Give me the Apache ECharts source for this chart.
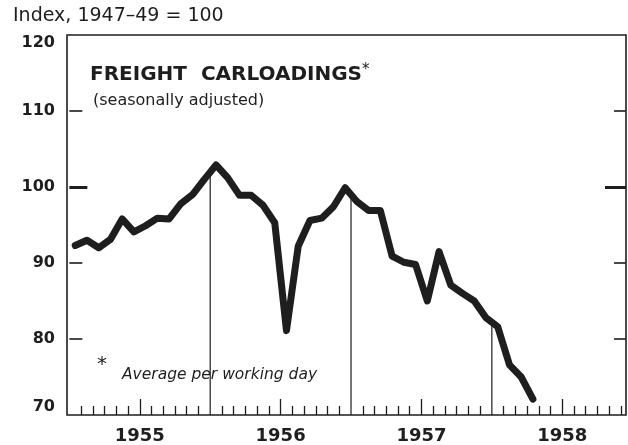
<!DOCTYPE html>
<html>
<head>
<meta charset="utf-8">
<script src="https://cdn.jsdelivr.net/npm/echarts@6/dist/echarts.min.js"></script>
<style>
  html, body { margin: 0; padding: 0; background: #fff; }
  #chart { width: 628px; height: 445px; }
</style>
</head>
<body>
<div id="chart"></div>
<script>
// Months counted from January 1955 (0 = Jan 1955)
var startYear = 1955;
var yearLabels = ['1955', '1956', '1957', '1958'];
// Monthly index values, Jan 1955 .. Apr 1958 (seasonally adjusted, 1947-49 = 100)
var carloadings = [
  92.3, 93.0, 92.0, 93.1, 95.8, 94.1, 94.9, 95.9, 95.8, 97.8, 99.0, 101.0,
  102.9, 101.2, 98.9, 98.9, 97.6, 95.3, 81.1, 92.2, 95.6, 95.9, 97.4, 99.9,
  98.1, 96.9, 96.9, 90.9, 90.1, 89.8, 85.0, 91.5, 87.1, 86.0, 85.0, 82.8,
  81.6, 76.6, 75.0, 72.1
];
var yTicks = [70, 80, 90, 100, 110, 120];
var minorTickValues = [80, 90, 110];
var majorTickValue = [100];
var dropMonths = [12, 24, 36];   // year boundaries with drop lines

var xMin = -0.2, xMax = 47.43;

var lineData = carloadings.map(function (v, i) { return [i + 0.5, v]; });

function valueAt(m) {
  for (var i = 0; i < lineData.length - 1; i++) {
    var a = lineData[i], b = lineData[i + 1];
    if (m >= a[0] && m <= b[0]) {
      return a[1] + (b[1] - a[1]) * (m - a[0]) / (b[0] - a[0]);
    }
  }
  return lineData[lineData.length - 1][1];
}
var dropData = dropMonths.map(function (m) { return [m, valueAt(m)]; });

var yearMid = yearLabels.map(function (y, i) { return i * 12 + 6; });
var shortTicks = [];
for (var m = 1; m < 48; m++) { if (m % 6 !== 0) shortTicks.push(m); }

var ink = '#1e1e1e';
var chart = echarts.init(document.getElementById('chart'), null, { renderer: 'canvas' });

function xAxisBase(extra) {
  return Object.assign({
    type: 'value', min: xMin, max: xMax, position: 'bottom', gridIndex: 0,
    axisLine: { show: false }, splitLine: { show: false },
    axisLabel: { show: false }, axisTick: { show: false }
  }, extra);
}
function yAxisBase(extra) {
  return Object.assign({
    type: 'value', min: 70, max: 120, gridIndex: 0,
    axisLine: { show: false }, splitLine: { show: false },
    axisLabel: { show: false }, axisTick: { show: false }
  }, extra);
}

chart.setOption({
  backgroundColor: '#ffffff',
  animation: false,
  grid: { left: 67, right: 2, top: 35, bottom: 27, show: true, borderColor: ink, borderWidth: 1.6, backgroundColor: 'transparent' },
  graphic: [
    { type: 'text', left: 13, top: 7, style: { text: 'Index, 1947–49 = 100', font: '19px "DejaVu Sans"', fill: ink } },
    { type: 'text', left: 90, top: 63, style: {
        text: '{t|FREIGHT  CARLOADINGS}{s|*}',
        rich: {
          t: { font: 'bold 20px "DejaVu Sans"', fill: ink, lineHeight: 23 },
          s: { font: '15px "DejaVu Sans"', fill: ink, verticalAlign: 'top', lineHeight: 23 }
        } } },
    { type: 'text', left: 93, top: 93, style: { text: '(seasonally adjusted)', font: '16px "DejaVu Sans"', fill: ink } },
    { type: 'text', left: 97, top: 355, style: { text: '*', font: '20px "DejaVu Sans"', fill: ink } },
    { type: 'text', left: 122, top: 367, style: { text: 'Average per working day', font: 'italic 15.5px "DejaVu Sans"', fill: ink } }
  ],
  xAxis: [
    xAxisBase({
      axisLabel: {
        show: true, customValues: yearMid, margin: 12,
        color: ink, fontFamily: 'DejaVu Sans', fontWeight: 'bold', fontSize: 18,
        formatter: function (v) { return yearLabels[Math.round((v - 6) / 12)]; }
      }
    }),
    xAxisBase({ axisTick: { show: true, inside: true, length: 9, customValues: shortTicks, lineStyle: { color: ink, width: 1.3 } } }),
    xAxisBase({ axisTick: { show: true, inside: true, length: 16, customValues: yearMid, lineStyle: { color: ink, width: 1.3 } } })
  ],
  yAxis: [
    yAxisBase({
      position: 'left', interval: 10,
      axisLabel: {
        show: true, margin: 12, color: ink, fontFamily: 'DejaVu Sans', fontWeight: 'bold', fontSize: 16,
        verticalAlignMinLabel: 'bottom', verticalAlignMaxLabel: 'top'
      }
    }),
    yAxisBase({ position: 'left', axisTick: { show: true, inside: true, length: 13, customValues: minorTickValues, lineStyle: { color: ink, width: 1.6 } } }),
    yAxisBase({ position: 'left', axisTick: { show: true, inside: true, length: 18, customValues: majorTickValue, lineStyle: { color: ink, width: 3 } } }),
    yAxisBase({ position: 'right', axisTick: { show: true, inside: true, length: 12, customValues: minorTickValues, lineStyle: { color: ink, width: 1.6 } } }),
    yAxisBase({ position: 'right', axisTick: { show: true, inside: true, length: 21, customValues: majorTickValue, lineStyle: { color: ink, width: 3 } } })
  ],
  series: [
    {
      type: 'custom', xAxisIndex: 0, yAxisIndex: 0, z: 2, silent: true,
      data: dropData,
      renderItem: function (params, api) {
        var top = api.coord([api.value(0), api.value(1)]);
        var bot = api.coord([api.value(0), 70]);
        return { type: 'line', shape: { x1: top[0], y1: top[1], x2: bot[0], y2: bot[1] },
                 style: { stroke: ink, lineWidth: 1.2 } };
      }
    },
    {
      type: 'line', xAxisIndex: 0, yAxisIndex: 0, z: 5, silent: true,
      data: lineData, symbol: 'none',
      lineStyle: { color: ink, width: 7, cap: 'round', join: 'round' }
    }
  ]
});
</script>
</body>
</html>
